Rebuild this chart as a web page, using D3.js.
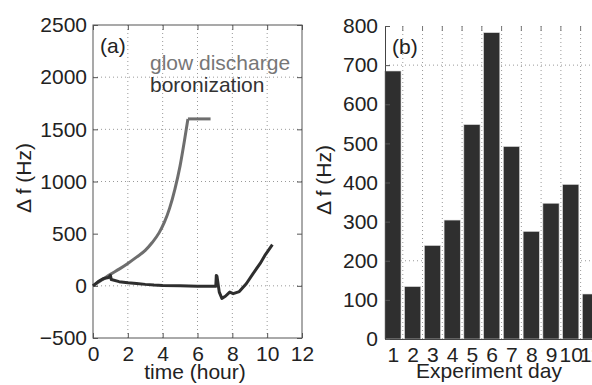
<!DOCTYPE html>
<html>
<head>
<meta charset="utf-8">
<script src="https://cdn.jsdelivr.net/npm/d3@7"></script>
<style>
  html, body { margin: 0; padding: 0; background: #fff; }
  svg { display: block; font-family: "Liberation Sans", Arial, sans-serif; }
</style>
</head>
<body>
<div id="chart"></div>
<script>
// Panel (a): frequency shift vs time
const glowTime = [0, 0.5, 1, 1.5, 2, 2.5, 3, 3.4, 3.8, 4.1, 4.4, 4.7, 5.0, 5.25, 5.45, 6.75];
const glowShift = [0, 55, 110, 160, 215, 275, 340, 415, 510, 610, 745, 925, 1150, 1390, 1600, 1600];

const boroTime = [0, 0.3, 0.6, 0.9, 1.0, 1.05, 1.5, 2, 2.5, 3, 3.5, 4, 5, 6, 7.05, 7.08, 7.12, 7.25, 7.4, 7.6, 7.85, 8.05, 8.4, 8.8, 9.2, 9.6, 9.9, 10.3];
const boroShift = [0, 40, 70, 80, 100, 60, 40, 30, 22, 14, 8, 4, 0, -5, -5, 100, 90, -60, -120, -100, -60, -75, -55, 20, 120, 215, 300, 395];

const timeTicks = [0, 2, 4, 6, 8, 10, 12];
const shiftTicks = [-500, 0, 500, 1000, 1500, 2000, 2500];
const shiftGrid = [0, 1000, 1500, 2000];

// Panel (b): frequency shift per experiment day
const days = [1, 2, 3, 4, 5, 6, 7, 8, 9, 10, 11];
const dayShift = [685, 134, 239, 304, 548, 783, 492, 275, 347, 395, 115];
const dayTicks = [0, 100, 200, 300, 400, 500, 600, 700, 800];
const dayGridY = [200, 700];

const width = 592, height = 385;
const svg = d3.select("#chart").append("svg")
  .attr("width", width)
  .attr("height", height);

const fontSize = 21;
const textColor = "#222";
const gridColor = "#999";
const fontFamily = "Liberation Sans, Arial, sans-serif";

// ---------- panel (a) ----------
const ax = d3.scaleLinear().domain([0, 12]).range([93, 302]);
const ay = d3.scaleLinear().domain([-500, 2500]).range([338, 25]);

const ga = svg.append("g");

// grid
ga.selectAll("line.vgrid")
  .data([2, 4, 6, 8, 10])
  .join("line")
  .attr("x1", d => ax(d)).attr("x2", d => ax(d))
  .attr("y1", ay(2500)).attr("y2", ay(-500))
  .attr("stroke", gridColor).attr("stroke-width", 1)
  .attr("stroke-dasharray", "1,3");

ga.selectAll("line.hgrid")
  .data(shiftGrid)
  .join("line")
  .attr("x1", ax(0)).attr("x2", ax(12))
  .attr("y1", d => ay(d)).attr("y2", d => ay(d))
  .attr("stroke", gridColor).attr("stroke-width", 1)
  .attr("stroke-dasharray", "1,3");

// box
ga.append("rect")
  .attr("x", ax(0)).attr("y", ay(2500))
  .attr("width", ax(12) - ax(0)).attr("height", ay(-500) - ay(2500))
  .attr("fill", "none").attr("stroke", "#555").attr("stroke-width", 1);

// axes (ticks inward, labels outside)
const fmt = d3.format("d");
const axB = ga.append("g").attr("transform", `translate(0,${ay(-500)})`)
  .call(d3.axisBottom(ax).tickValues(timeTicks).tickSize(-5).tickPadding(5).tickFormat(fmt));
const axL = ga.append("g").attr("transform", `translate(${ax(0)},0)`)
  .call(d3.axisLeft(ay).tickValues(shiftTicks).tickSize(-5).tickPadding(6).tickFormat(fmt));
const axT = ga.append("g").attr("transform", `translate(0,${ay(2500)})`)
  .call(d3.axisTop(ax).tickValues(timeTicks).tickSize(-5).tickFormat(""));
const axR = ga.append("g").attr("transform", `translate(${ax(12)},0)`)
  .call(d3.axisRight(ay).tickValues(shiftTicks).tickSize(-5).tickFormat(""));

[axB, axL, axT, axR].forEach(g => {
  g.select(".domain").remove();
  g.selectAll(".tick line").attr("stroke", "#555");
  g.selectAll(".tick text")
    .attr("font-family", fontFamily)
    .attr("font-size", fontSize).attr("fill", textColor);
});
axB.selectAll(".tick text").attr("dy", "0.85em");

// lines
const n = glowTime.length;
const glowPts = d3.zip(glowTime, glowShift);
const smoothA = d3.line().x(d => ax(d[0])).y(d => ay(d[1])).curve(d3.curveMonotoneX);
const lineA = d3.line().x(d => ax(d[0])).y(d => ay(d[1]));
ga.append("path")
  .datum(glowPts.slice(0, n - 1))
  .attr("d", smoothA)
  .attr("fill", "none").attr("stroke", "#6e6e6e")
  .attr("stroke-width", 3).attr("stroke-linejoin", "round");
ga.append("path")
  .datum(glowPts.slice(n - 2))
  .attr("d", lineA)
  .attr("fill", "none").attr("stroke", "#6e6e6e")
  .attr("stroke-width", 3).attr("stroke-linejoin", "round");
ga.append("path")
  .datum(d3.zip(boroTime, boroShift))
  .attr("d", lineA)
  .attr("fill", "none").attr("stroke", "#2e2e2e")
  .attr("stroke-width", 3).attr("stroke-linejoin", "round");

// texts
ga.append("text").attr("x", 100).attr("y", 53)
  .attr("font-size", fontSize).attr("fill", textColor).text("(a)");
ga.append("text").attr("x", 150).attr("y", 70)
  .attr("font-size", fontSize).attr("fill", "#777").text("glow discharge");
ga.append("text").attr("x", 150).attr("y", 92)
  .attr("font-size", fontSize).attr("fill", "#333").text("boronization");
ga.append("text").attr("x", 195).attr("y", 379)
  .attr("text-anchor", "middle")
  .attr("font-size", fontSize).attr("fill", textColor).text("time (hour)");
ga.append("text")
  .attr("transform", "translate(31,178) rotate(-90)")
  .attr("text-anchor", "middle")
  .attr("font-size", fontSize).attr("fill", textColor).text("Δ f (Hz)");

// ---------- panel (b) ----------
const bx = d3.scaleLinear().domain([0.6, 11.5]).range([385, 385 + 10.9 * 19.76]);
const by = d3.scaleLinear().domain([0, 800]).range([339, 26]);
const barW = 0.82;

const gb = svg.append("g");

// grid
gb.selectAll("line.vgrid")
  .data(d3.range(1.5, 11.5, 1))
  .join("line")
  .attr("x1", d => bx(d)).attr("x2", d => bx(d))
  .attr("y1", by(800)).attr("y2", by(0))
  .attr("stroke", gridColor).attr("stroke-width", 1)
  .attr("stroke-dasharray", "1,3");
gb.selectAll("line.topTick")
  .data(d3.range(1.5, 11.5, 1))
  .join("line")
  .attr("x1", d => bx(d)).attr("x2", d => bx(d))
  .attr("y1", by(800)).attr("y2", by(800) + 5)
  .attr("stroke", "#777").attr("stroke-width", 1);
gb.selectAll("line.hgrid")
  .data(dayGridY)
  .join("line")
  .attr("x1", bx(0.6)).attr("x2", width)
  .attr("y1", d => by(d)).attr("y2", d => by(d))
  .attr("stroke", gridColor).attr("stroke-width", 1)
  .attr("stroke-dasharray", "1,3");

// bars
gb.selectAll("rect.bar")
  .data(d3.zip(days, dayShift))
  .join("rect")
  .attr("x", d => bx(d[0] - barW / 2))
  .attr("width", bx(barW) - bx(0))
  .attr("y", d => by(d[1]))
  .attr("height", d => by(0) - by(d[1]))
  .attr("fill", "#2f2f2f")
  .attr("stroke", "#ddd").attr("stroke-width", 0.6);

// axes
const bxB = gb.append("g").attr("transform", `translate(0,${by(0)})`)
  .call(d3.axisBottom(bx).tickValues(days).tickSize(0).tickPadding(5).tickFormat(fmt));
const byL = gb.append("g").attr("transform", `translate(${bx(0.6)},0)`)
  .call(d3.axisLeft(by).tickValues(dayTicks).tickSize(-5).tickPadding(7).tickFormat(fmt));
[bxB, byL].forEach(g => {
  g.select(".domain").attr("stroke", "#444");
  g.selectAll(".tick line").attr("stroke", "#555");
  g.selectAll(".tick text")
    .attr("font-family", fontFamily)
    .attr("font-size", fontSize).attr("fill", textColor);
});
bxB.selectAll(".tick text").attr("dy", "0.85em");

gb.append("text").attr("x", 392).attr("y", 54)
  .attr("font-size", fontSize).attr("fill", textColor).text("(b)");
gb.append("text").attr("x", 489).attr("y", 378)
  .attr("text-anchor", "middle")
  .attr("font-size", fontSize).attr("fill", textColor).text("Experiment day");
gb.append("text")
  .attr("transform", "translate(331,180) rotate(-90)")
  .attr("text-anchor", "middle")
  .attr("font-size", fontSize).attr("fill", textColor).text("Δ f (Hz)");
</script>
</body>
</html>
